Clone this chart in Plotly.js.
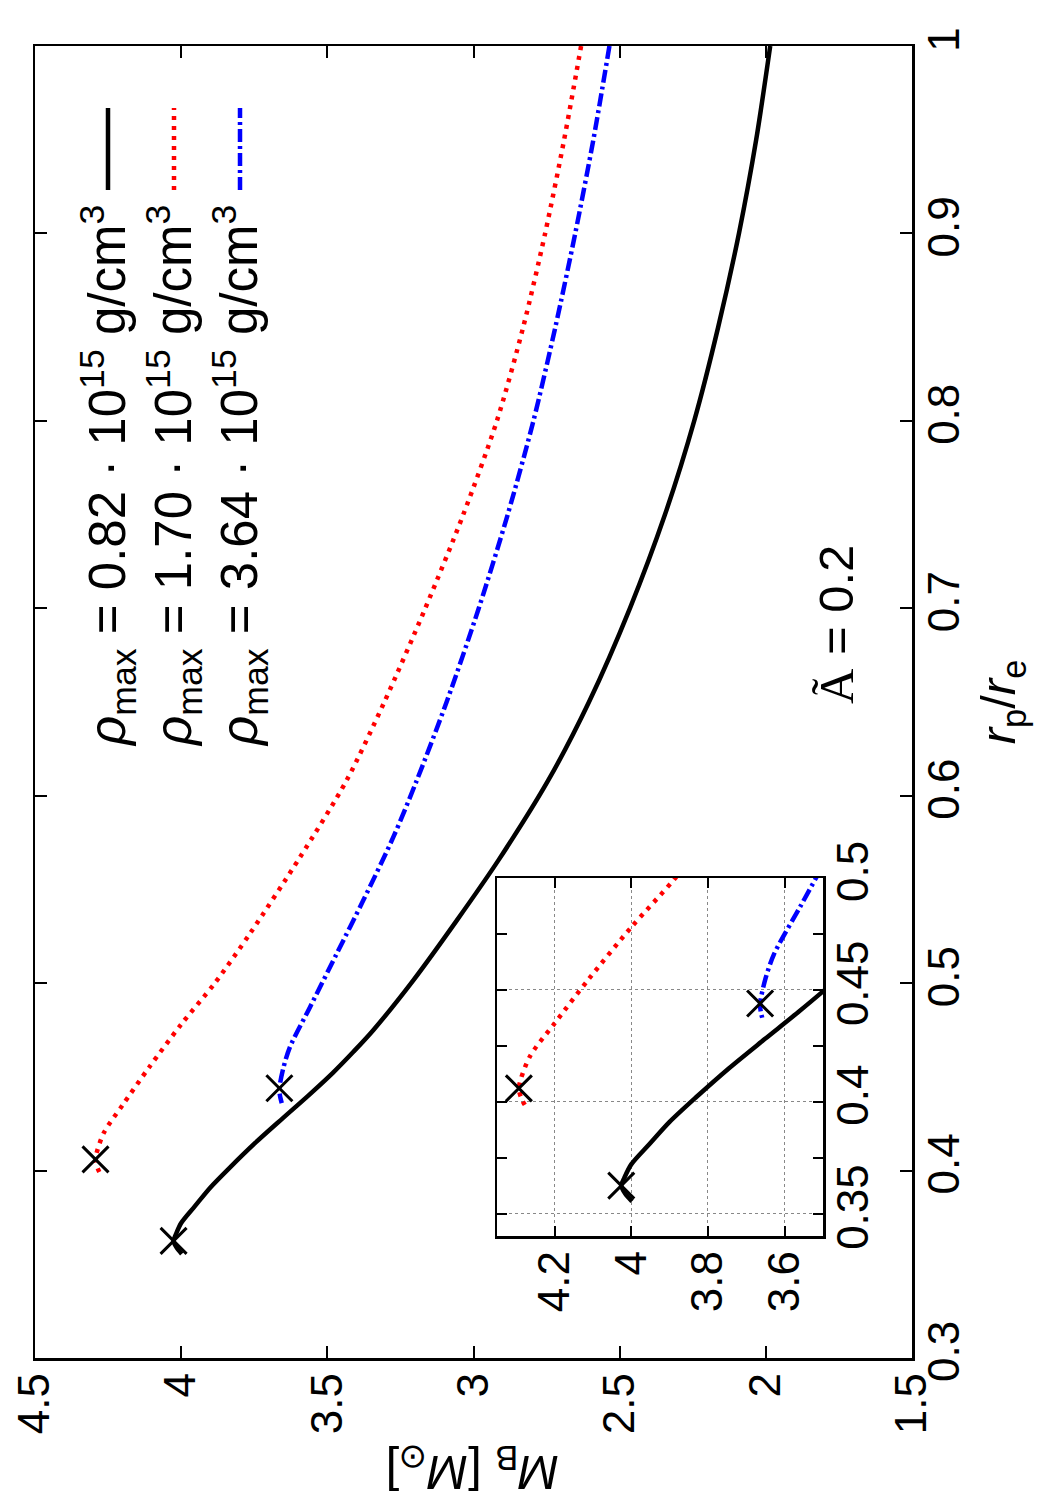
<!DOCTYPE html>
<html>
<head>
<meta charset="utf-8">
<script src="https://cdn.plot.ly/plotly-3.0.1.min.js"></script>
<style>
html, body { margin:0; padding:0; background:#ffffff; }
#plot { width:1050px; height:1500px; }
</style>
</head>
<body>
<div id="plot"></div>
<script>
// r_p/r_e values and baryon masses M_B [M_sun]
const rBlack = [1.0, 0.95, 0.9, 0.85, 0.8, 0.75, 0.7, 0.65, 0.608, 0.5655, 0.5335, 0.5015, 0.4749, 0.4635, 0.452, 0.44, 0.428, 0.415, 0.402, 0.391, 0.381, 0.372, 0.366, 0.3625, 0.359, 0.3555];
const mBlack = [1.985, 2.033, 2.092, 2.163, 2.245, 2.345, 2.465, 2.605, 2.745, 2.915, 3.057, 3.206, 3.343, 3.41, 3.482, 3.565, 3.652, 3.745, 3.831, 3.9, 3.953, 4.0, 4.018, 4.026, 4.016, 3.998];

const rRed = [1.0, 0.95, 0.9, 0.85, 0.8, 0.75, 0.7, 0.65, 0.6082, 0.5673, 0.5266, 0.5, 0.478, 0.455, 0.435, 0.42, 0.406, 0.401, 0.397];
const mRed = [2.632, 2.69, 2.755, 2.83, 2.92, 3.035, 3.165, 3.305, 3.434, 3.593, 3.764, 3.885, 4.0, 4.11, 4.2, 4.265, 4.293, 4.285, 4.272];

const rBlue = [1.0, 0.95, 0.9, 0.85, 0.8, 0.75, 0.7, 0.65, 0.6082, 0.578, 0.5442, 0.5157, 0.4873, 0.4659, 0.455, 0.4439, 0.44, 0.436];
const mBlue = [2.535, 2.59, 2.652, 2.72, 2.795, 2.883, 2.982, 3.092, 3.194, 3.274, 3.377, 3.468, 3.559, 3.628, 3.65, 3.664, 3.662, 3.656];

// end points marked with crosses
const rCross = [0.3625, 0.406, 0.4439];
const mCross = [4.026, 4.293, 3.664];

const legendLabels = [
  "<i>ρ</i><sub>max</sub> = 0.82 · 10<sup>15</sup> g/cm<sup>3</sup>",
  "<i>ρ</i><sub>max</sub> = 1.70 · 10<sup>15</sup> g/cm<sup>3</sup>",
  "<i>ρ</i><sub>max</sub> = 3.64 · 10<sup>15</sup> g/cm<sup>3</sup>"
];

const FONT = "Liberation Sans, Arial, Helvetica, sans-serif";
const FS = 44;
const FL = 51;

const styles = [
  {color:"#000000", width:4.5, dash:"solid"},
  {color:"#ff0000", width:4.5, dash:"4px,6px"},
  {color:"#0000ff", width:4.5, dash:"13px,4px,3px,4px"}
];
const series = [[rBlack, mBlack], [rRed, mRed], [rBlue, mBlue]];

const traces = [];
["x","x2"].forEach((xa, k) => {
  const ya = k === 0 ? "y" : "y2";
  series.forEach((s, i) => {
    traces.push({x: s[1], y: s[0], xaxis: xa, yaxis: ya, mode: "lines", showlegend: false,
                 line: {color: styles[i].color, width: styles[i].width, dash: styles[i].dash, shape: "spline", smoothing: 0.8},
                 hoverinfo: "skip"});
  });
  traces.push({x: mCross, y: rCross, xaxis: xa, yaxis: ya, mode: "markers", showlegend: false,
               marker: {symbol: "x-thin", size: 26, color: "#000000", line: {color: "#000000", width: 3}}});
});

// plot area in px: x 35..912, y 46..1358
const W = 1050, H = 1500, L = 35, R = 138, T = 46, B = 142;
const PW = W - L - R, PH = H - T - B;
const px = X => (X - L) / PW;
const py = Y => (H - B - Y) / PH;

const annotations = [];
const shapes = [];
const rowsX = [108, 174, 240];
legendLabels.forEach((t, i) => {
  annotations.push({xref: "paper", yref: "paper", x: px(rowsX[i]), y: py(203), xanchor: "center", yanchor: "top",
                    textangle: -90, text: t, showarrow: false, font: {family: FONT, size: FL, color: "#000"}});
  shapes.push({type: "line", xref: "paper", yref: "paper", x0: px(rowsX[i]), x1: px(rowsX[i]), y0: py(190), y1: py(108),
               line: {color: styles[i].color, width: styles[i].width, dash: styles[i].dash}});
});
annotations.push({xref: "paper", yref: "paper", x: px(836), y: py(625), xanchor: "center", yanchor: "middle",
                  textangle: -90,
                  text: "<span style='font-family:Liberation Serif, Times New Roman, serif'>Ã</span> = 0.2",
                  showarrow: false, font: {family: FONT, size: 49, color: "#000"}});
// mass-axis title, drawn upside down as in the rotated original
annotations.push({xref: "paper", yref: "paper", x: px(473), y: py(1470), xanchor: "center", yanchor: "middle",
                  textangle: 180,
                  text: "<i>M</i><sub>B</sub> [<i>M</i><sub>⊙</sub>]",
                  showarrow: false, font: {family: FONT, size: 49, color: "#000"}});

const axBase = {
  showgrid: false, zeroline: false, showline: true, linecolor: "#000", linewidth: 2.5,
  mirror: "allticks", ticks: "inside", ticklen: 12, tickwidth: 2, tickcolor: "#000",
  tickangle: -90,
  tickfont: {family: FONT, size: FS, color: "#000"}
};

const layout = {
  width: W, height: H,
  margin: {l: L, r: R, t: T, b: B, pad: 0},
  paper_bgcolor: "#ffffff", plot_bgcolor: "#ffffff",
  showlegend: false,
  font: {family: FONT, size: FS, color: "#000"},
  xaxis: Object.assign({}, axBase, {range: [4.5, 1.5], tick0: 1.5, dtick: 0.5, anchor: "y", side: "bottom",
    ticklabelstandoff: -5}),
  yaxis: Object.assign({}, axBase, {range: [0.3, 1.0], tick0: 0.3, dtick: 0.1, anchor: "x", side: "right",
    ticklabelstandoff: -8,
    title: {text: "<i>r</i><sub>p</sub>/<i>r</i><sub>e</sub>", font: {family: FONT, size: 49}, standoff: 14}}),
  xaxis2: Object.assign({}, axBase, {range: [4.35, 3.5], tick0: 3.6, dtick: 0.2, anchor: "y2",
    domain: [px(497), px(823)], ticklen: 10, ticklabelstandoff: -5,
    showgrid: true, gridcolor: "#888888", gridwidth: 1, griddash: "dot"}),
  yaxis2: Object.assign({}, axBase, {range: [0.34, 0.5], tick0: 0.35, dtick: 0.05, anchor: "x2", side: "right",
    domain: [py(1236), py(878)], ticklen: 10, ticklabelstandoff: -10,
    showgrid: true, gridcolor: "#888888", gridwidth: 1, griddash: "dot",
    minor: {dtick: 0.025, ticks: "inside", ticklen: 10, tickwidth: 2, tickcolor: "#000", showgrid: false}}),
  annotations: annotations,
  shapes: shapes
};

Plotly.newPlot("plot", traces, layout, {staticPlot: true, displayModeBar: false});
</script>
</body>
</html>
